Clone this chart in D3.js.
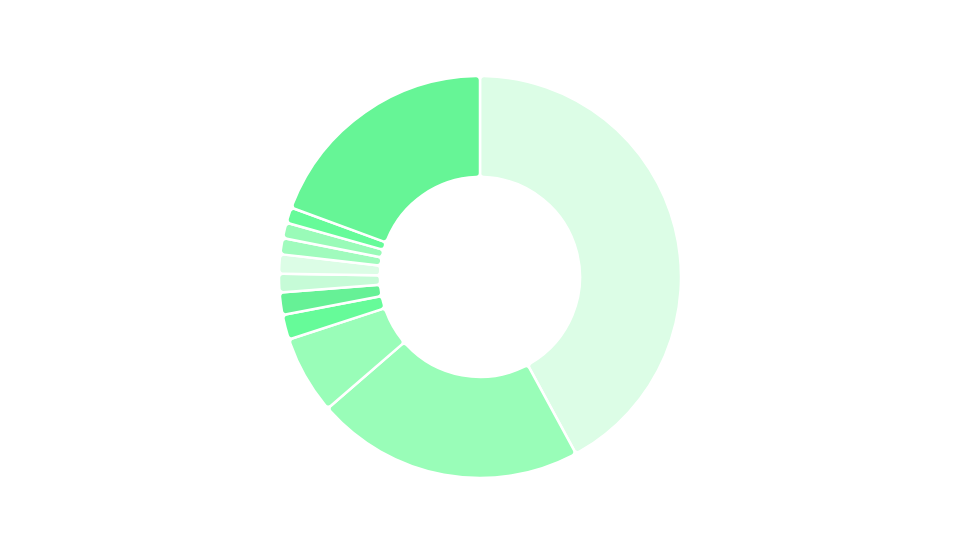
<!DOCTYPE html>
<html>
<head>
<meta charset="utf-8">
<script src="https://cdn.jsdelivr.net/npm/d3@7/dist/d3.min.js"></script>
<style>
  html, body { margin: 0; padding: 0; background: #ffffff; }
  svg { display: block; }
</style>
</head>
<body>
<svg id="chart" width="960" height="540"></svg>
<script>
// Data (clockwise from 12 o'clock)
const categories = ["A", "B", "C", "D", "E", "F", "G", "H", "I", "J", "K"];
const values = [42.1, 21.6, 6.3, 2.0, 1.8, 1.5, 1.55, 1.3, 1.25, 1.25, 19.4];
const colors = ["#dcfde6", "#99fdb8", "#99fdb8", "#66fb99", "#66f196", "#c6fbd7",
                "#dcfde6", "#a0fbbd", "#99fbb8", "#66fb99", "#66f596"];

const width = 960, height = 540;
const cx = 480, cy = 277;
const outerR = 201, innerR = 100;

const svg = d3.select("#chart");
const g = svg.append("g").attr("transform", `translate(${cx},${cy})`);

const data = categories.map((c, i) => ({ name: c, value: values[i], color: colors[i] }));

const pie = d3.pie().value(d => d.value).sort(null);
const arc = d3.arc().innerRadius(innerR).outerRadius(outerR).cornerRadius(4);

g.selectAll("path")
  .data(pie(data))
  .join("path")
  .attr("d", arc)
  .attr("fill", d => d.data.color)
  .attr("stroke", "#ffffff")
  .attr("stroke-width", 2.5)
  .attr("stroke-linejoin", "round");
</script>
</body>
</html>
